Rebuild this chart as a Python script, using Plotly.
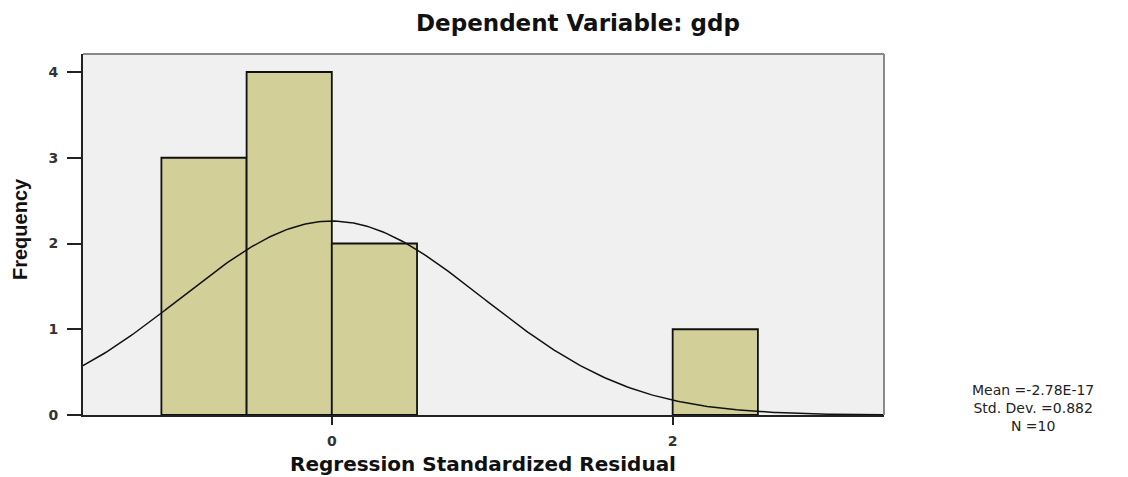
import numpy as np
import plotly.graph_objects as go

# ---- data ----
bin_centers = [-0.75, -0.25, 0.25, 2.25]
frequencies = [3, 4, 2, 1]
bin_width = 0.5
stat_mean = -2.78e-17
stat_sd = 0.882
stat_n = 10
x_tick_vals = [0, 2]
y_tick_vals = [0, 1, 2, 3, 4]
x_range = [-1.46, 3.24]
y_range = [0, 4.21]

# fitted normal curve (from displayed mean / sd / N)
cx = np.linspace(x_range[0], x_range[1], 300)
cy = stat_n * bin_width / (stat_sd * np.sqrt(2 * np.pi)) * np.exp(-0.5 * ((cx - stat_mean) / stat_sd) ** 2)

# page body has an 8px margin -> figure drawn at (8, 8)
W, H = 1120, 469
L, R, T, B = 75, 244, 46, 62
PW, PH = W - L - R, H - T - B

def px(xp):  # reference x pixel -> paper fraction
    return (xp - 8 - L) / PW

def py(yp):  # reference y pixel -> paper fraction
    return (H - B - (yp - 8)) / PH

fig = go.Figure()
fig.add_trace(go.Bar(
    x=bin_centers, y=frequencies, width=bin_width,
    marker=dict(color="#d3cf98", line=dict(color="#111111", width=1.8)),
    hoverinfo="skip"))
fig.add_trace(go.Scatter(x=cx, y=cy, mode="lines",
                         line=dict(color="#111111", width=1.5), hoverinfo="skip"))

fig.update_layout(
    width=W, height=H,
    margin=dict(l=L, r=R, t=T, b=B),
    paper_bgcolor="white", plot_bgcolor="#f0f0f0",
    showlegend=False,
    font=dict(family="DejaVu Sans, Liberation Sans, Arial, sans-serif", color="#222222"),
)
fig.update_xaxes(range=x_range, tickvals=x_tick_vals, showgrid=False, zeroline=False,
                 showline=True, linecolor="#222222", linewidth=2,
                 ticks="outside", ticklen=8, tickwidth=2, tickcolor="#222222",
                 ticklabelstandoff=4,
                 tickfont=dict(size=14, color="#333333", weight="bold"))
fig.update_yaxes(range=y_range, tickvals=y_tick_vals, showgrid=False, zeroline=False,
                 showline=True, linecolor="#222222", linewidth=2,
                 ticks="outside", ticklen=14, tickwidth=2, tickcolor="#222222",
                 ticklabelstandoff=6,
                 tickfont=dict(size=14, color="#333333", weight="bold"))

# gray frame (top / right)
fig.add_shape(type="line", xref="paper", yref="paper", x0=0, x1=1, y0=1, y1=1,
              line=dict(color="#888888", width=2))
fig.add_shape(type="line", xref="paper", yref="paper", x0=1, x1=1, y0=0, y1=1,
              line=dict(color="#888888", width=2))

# titles
fig.add_annotation(text="<b>Dependent Variable: gdp</b>", xref="paper", yref="paper",
                   x=px(578), y=py(23), showarrow=False,
                   xanchor="center", yanchor="middle",
                   font=dict(size=23, color="#111111"))
fig.add_annotation(text="<b>Regression Standardized Residual</b>", xref="paper", yref="paper",
                   x=px(483), y=py(464), showarrow=False,
                   xanchor="center", yanchor="middle",
                   font=dict(size=20, color="#111111"))
fig.add_annotation(text="<b>Frequency</b>", xref="paper", yref="paper",
                   x=px(20), y=py(229), textangle=-90, showarrow=False,
                   xanchor="center", yanchor="middle",
                   font=dict(size=20, color="#111111",
                             family="Liberation Sans Narrow, Arial Narrow, Liberation Sans, sans-serif"))

# stats box
stats_text = "<br>".join(["Mean =-2.78E-17", f"Std. Dev. ={stat_sd}", f"N ={stat_n}"])
fig.add_annotation(text=stats_text, xref="paper", yref="paper",
                   x=px(1033), y=py(408), align="center",
                   showarrow=False, xanchor="center", yanchor="middle",
                   font=dict(size=14, color="#222222"))

fig.write_html("out.html")
